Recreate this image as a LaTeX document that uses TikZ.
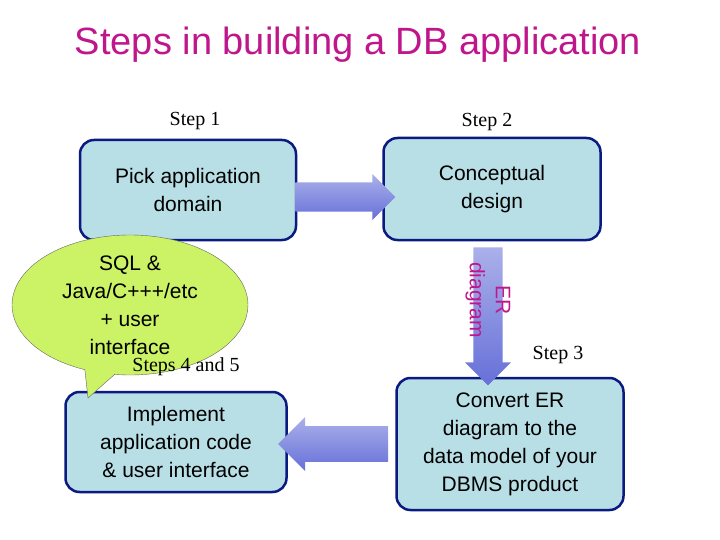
\documentclass[tikz,border=0pt]{standalone}
\usepackage{fontspec}
\setmainfont{Liberation Serif}
\newfontfamily\sansf{Liberation Sans}
\usetikzlibrary{shapes.arrows,shapes.callouts}
\definecolor{boxfill}{HTML}{B9DFE6}
\definecolor{boxline}{HTML}{0A1A80}
\definecolor{arrowfill}{HTML}{6670D8}
\definecolor{titlecol}{HTML}{C0168C}
\definecolor{bubble}{HTML}{CCF266}
\tikzset{
  stepbox/.style={rounded corners=14pt, draw=boxline, line width=2.5pt, fill=boxfill,
    align=center, font=\sansf\fontsize{21}{28}\selectfont, inner sep=0pt},
  flow/.style={single arrow, draw=none, top color=arrowfill!55, bottom color=arrowfill,
    minimum height=#1, inner xsep=0pt, inner ysep=12pt, minimum width=46pt},
  steplabel/.style={font=\fontsize{20}{24}\selectfont}
}
\begin{document}
\begin{tikzpicture}[x=1pt,y=-1pt]
  \useasboundingbox (0,0) rectangle (720,540);
  \node[text=titlecol, font=\sansf\fontsize{38}{44}\selectfont] (title) at (358,45) {Steps in building a DB application};

  \node[steplabel] (s1) at (195,121) {Step 1};
  \node[steplabel] (s2) at (487,122) {Step 2};
  \node[steplabel] (s3) at (558,355) {Step 3};

  \node[stepbox, minimum width=216pt, minimum height=100pt] (dom) at (188,190) {Pick application\\domain};
  \node[stepbox, minimum width=217pt, minimum height=102pt] (con) at (492,189) {Conceptual\\design};
  \node[stepbox, minimum width=227pt, minimum height=132pt] (erm) at (510,444) {Convert ER\\diagram to the\\data model of your\\DBMS product};
  \node[stepbox, minimum width=221pt, minimum height=100pt] (app) at (176,442) {Implement\\application code\\\& user interface};

  % arrows between the steps
  \node[flow=100pt] (a1) at (338,197) {};
  \node[flow=138pt, rotate=-90] (a2) at (488,309) {};
  \node[flow=110pt, inner ysep=14pt, minimum width=54pt, rotate=180] (a3) at (342,444) {};
  \node[rotate=-90, text=titlecol, align=center, font=\sansf\fontsize{21}{26}\selectfont] (er) at (488,300) {ER\\diagram};

  \node[ellipse callout, draw=black!60, fill=bubble, minimum width=236pt, minimum height=140pt,
    callout absolute pointer={(88,398)}, align=center, inner sep=0pt,
    font=\sansf\fontsize{21}{28}\selectfont] (sql) at (130,305) {SQL \&\\Java/C+++/etc\\+ user\\interface};
  \node[steplabel] (s45) at (186,367) {Steps 4 and 5};
\end{tikzpicture}
\end{document}
